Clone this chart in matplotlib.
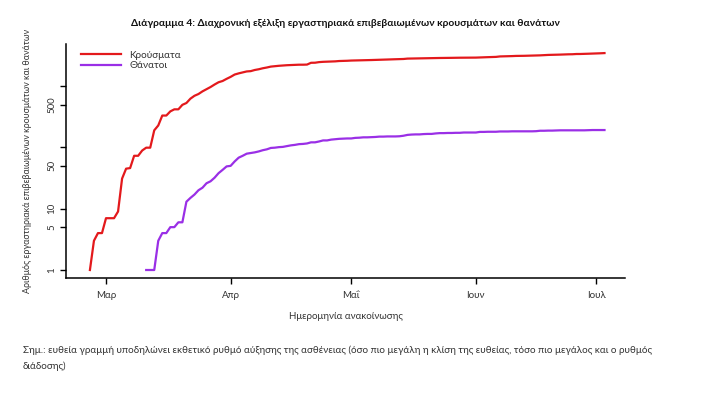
import matplotlib
matplotlib.use("Agg")
import matplotlib.pyplot as plt
import numpy as np
import pandas as pd

# cumulative confirmed cases, daily from 26 Feb 2020
cases_start = "2020-02-26"
cases = [1, 3, 4, 4,
         7, 7, 7, 9, 31, 45, 46, 73, 73, 89, 99, 99, 190, 228, 331, 331, 387, 418, 418, 495,
         530, 624, 695, 743, 821, 892, 966, 1061, 1156, 1212, 1314,
         1415, 1544, 1613, 1673, 1735, 1755, 1832, 1884, 1955, 2011, 2081, 2114, 2145, 2170, 2192,
         2207, 2224, 2235, 2235, 2245, 2401, 2408, 2463, 2490, 2506, 2517, 2534, 2566, 2576, 2591,
         2612, 2620, 2626, 2632, 2642, 2663, 2678, 2691, 2710, 2716, 2726, 2744, 2760, 2770, 2810,
         2819, 2834, 2836, 2840, 2850, 2853, 2873, 2876, 2878, 2882, 2892, 2903, 2906, 2909, 2915, 2917,
         2918, 2937, 2952, 2967, 2980, 2997, 3049, 3058, 3068, 3088, 3108, 3112, 3121, 3134, 3148,
         3156, 3175, 3203, 3227, 3237, 3256, 3266, 3287, 3302, 3310, 3340, 3343, 3366, 3376, 3390,
         3409, 3432, 3458]

# cumulative deaths, daily from 11 Mar 2020
deaths_start = "2020-03-11"
deaths = [1, 1, 1, 3, 4, 4, 5, 5, 6, 6, 13, 15, 17, 20, 22, 26, 28, 32, 38, 43, 49,
          50, 59, 68, 73, 79, 81, 83, 86, 90, 93, 98, 99, 101, 102, 105, 108, 110, 113, 114,
          116, 121, 121, 125, 130, 130, 134, 136, 138, 139, 140,
          140, 143, 144, 146, 146, 147, 148, 150, 150, 151, 151, 151, 152, 155, 160, 162, 163,
          163, 165, 166, 166, 169, 171, 171, 172, 172, 173, 173, 175, 175, 175,
          175, 179, 179, 180, 180, 180, 182, 182, 182, 183, 183, 183, 183, 183, 183, 184, 187,
          187, 188, 188, 189, 190, 190, 190, 190, 190, 190, 190, 191, 192,
          192, 192, 192]

month_ticks = ["2020-03-01", "2020-04-01", "2020-05-01", "2020-06-01", "2020-07-01"]
month_labels = ["Μαρ", "Απρ", "Μαΐ", "Ιουν", "Ιουλ"]
y_ticks = [1, 5, 10, 50, 100, 500, 1000]
y_labels = ["1", "5", "10", "50", "", "500", ""]

series_names = ["Κρούσματα", "Θάνατοι"]
series_colors = ["#e3191c", "#9a2fe6"]

title = "Διάγραμμα 4: Διαχρονική εξέλιξη εργαστηριακά επιβεβαιωμένων κρουσμάτων και θανάτων"
ylabel = "Αριθμός εργαστηριακά επιβεβαιωμένων κρουσμάτων και θανάτων"
xlabel = "Ημερομηνία ανακοίνωσης"
note = ("Σημ.: ευθεία γραμμή υποδηλώνει εκθετικό ρυθμό αύξησης της ασθένειας (όσο πιο μεγάλη η κλίση "
        "της ευθείας, τόσο πιο μεγάλος και ο ρυθμός\nδιάδοσης)")

plt.rcParams["font.family"] = ["Lato", "DejaVu Sans"]
text_col = "#333333"

W, H = 709, 399
fig = plt.figure(figsize=(W / 100, H / 100), dpi=100)
# plot region measured in pixels: x 66..625, y 44..278
ax = fig.add_axes([66 / W, 1 - 278 / H, (625 - 66) / W, (278 - 44) / H])

d_cases = pd.date_range(cases_start, periods=len(cases), freq="D")
d_deaths = pd.date_range(deaths_start, periods=len(deaths), freq="D")
ax.plot(d_cases, cases, color=series_colors[0], lw=1.6, label=series_names[0])
ax.plot(d_deaths, deaths, color=series_colors[1], lw=1.6, label=series_names[1])

ax.set_yscale("log")
ax.set_ylim(10 ** -0.1305, 10 ** 3.687)
ax.set_xlim(pd.Timestamp("2020-03-01") - pd.Timedelta(days=9.95),
            pd.Timestamp("2020-03-01") + pd.Timedelta(days=129.1))

ax.set_yticks(y_ticks)
ax.set_yticklabels(y_labels, rotation=90, va="center")
ax.yaxis.set_minor_locator(matplotlib.ticker.NullLocator())
ax.set_xticks([pd.Timestamp(t) for t in month_ticks])
ax.set_xticklabels(month_labels)

ax.spines["top"].set_visible(False)
ax.spines["right"].set_visible(False)
for s in ("left", "bottom"):
    ax.spines[s].set_linewidth(1.1)
ax.tick_params(axis="both", length=4, width=1.0, labelsize=7, color="black", labelcolor=text_col)
ax.tick_params(axis="y", pad=3)
ax.tick_params(axis="x", pad=5)

ax.set_xlabel(xlabel, fontsize=7, color=text_col, labelpad=9)
fig.text(28 / W, 1 - 161 / H, ylabel, rotation=90, ha="center", va="center",
         fontsize=6.4, color=text_col)
fig.text(345 / W, 1 - 23 / H, title, ha="center", va="center", fontsize=7.35,
         fontweight="bold", color="#111111")

ax.legend(loc="upper left", bbox_to_anchor=(81 / W, 1 - 50.5 / H), bbox_transform=fig.transFigure,
          frameon=False, fontsize=7.2, handlelength=4.0, handletextpad=0.8,
          labelspacing=0.15, borderpad=0, borderaxespad=0, labelcolor=text_col)

fig.text(23 / W, 1 - 345 / H, note, ha="left", va="top", fontsize=7.1, color=text_col,
         linespacing=1.85)

fig.savefig("out.png", dpi=100)
